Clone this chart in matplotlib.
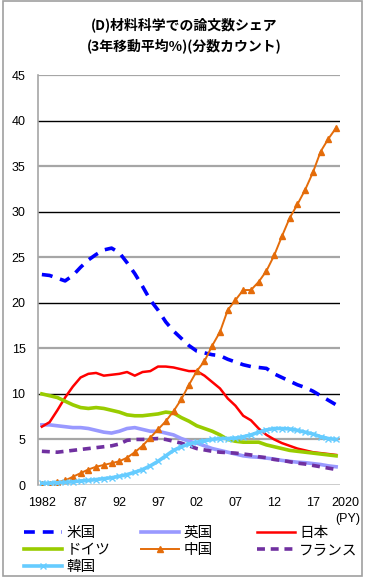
import numpy as np
import matplotlib.pyplot as plt
from matplotlib.patches import Rectangle
from matplotlib.transforms import ScaledTranslation

plt.rcParams['font.family'] = ['Liberation Sans', 'Noto Sans CJK JP']

years = np.arange(1982, 2021)

us = [23.1, 23.0, 22.7, 22.4, 23.0, 23.9, 24.7, 25.3, 25.8, 26.0,
      25.5, 24.4, 23.2, 21.8, 20.3, 19.2, 17.9, 16.9, 16.1, 15.3,
      14.7, 14.5, 14.3, 14.2, 13.8, 13.5, 13.2, 13.0, 12.9, 12.8,
      12.2, 11.8, 11.4, 11.0, 10.7, 10.3, 9.8, 9.3, 8.8]
uk = [6.6, 6.6, 6.5, 6.4, 6.3, 6.3, 6.2, 6.0, 5.8, 5.7,
      5.9, 6.2, 6.3, 6.1, 5.9, 5.9, 5.7, 5.5, 5.1, 4.8,
      4.6, 4.3, 4.0, 3.8, 3.6, 3.4, 3.2, 3.1, 3.05, 2.95,
      2.85, 2.7, 2.6, 2.5, 2.45, 2.35, 2.25, 2.1, 2.0]
japan = [6.4, 6.9, 8.2, 9.6, 10.8, 11.8, 12.2, 12.3, 12.0, 12.1,
         12.2, 12.4, 12.0, 12.4, 12.5, 13.0, 13.0, 12.9, 12.7, 12.5,
         12.5, 12.0, 11.3, 10.6, 9.5, 8.7, 7.6, 7.1, 6.2, 5.5,
         5.0, 4.6, 4.3, 4.0, 3.8, 3.6, 3.5, 3.4, 3.3]
germany = [10.0, 9.8, 9.6, 9.2, 8.8, 8.5, 8.4, 8.5, 8.4, 8.2,
           8.0, 7.7, 7.6, 7.6, 7.7, 7.8, 8.0, 7.9, 7.4, 7.0,
           6.5, 6.2, 5.9, 5.5, 5.0, 4.8, 4.7, 4.7, 4.7, 4.4,
           4.2, 4.0, 3.8, 3.7, 3.6, 3.5, 3.4, 3.3, 3.2]
china = [0.1, 0.15, 0.3, 0.5, 0.9, 1.3, 1.7, 2.0, 2.2, 2.4,
         2.6, 3.0, 3.6, 4.3, 5.2, 6.1, 7.0, 8.1, 9.4, 11.0,
         12.5, 13.6, 15.3, 16.8, 19.2, 20.3, 21.4, 21.4, 22.3, 23.5,
         25.2, 27.3, 29.3, 30.8, 32.4, 34.3, 36.6, 38.0, 39.2]
france = [3.7, 3.65, 3.6, 3.7, 3.8, 3.9, 4.0, 4.1, 4.2, 4.3,
          4.5, 4.9, 5.0, 5.0, 5.05, 5.1, 5.0, 4.8, 4.6, 4.3,
          4.0, 3.85, 3.7, 3.6, 3.55, 3.5, 3.4, 3.3, 3.1, 3.0,
          2.8, 2.7, 2.55, 2.4, 2.3, 2.15, 2.0, 1.85, 1.7]
korea = [0.2, 0.2, 0.25, 0.3, 0.35, 0.45, 0.5, 0.6, 0.7, 0.8,
         0.95, 1.15, 1.4, 1.7, 2.1, 2.6, 3.2, 3.8, 4.2, 4.5,
         4.7, 4.85, 5.0, 5.1, 5.1, 5.15, 5.3, 5.5, 5.8, 6.05,
         6.2, 6.2, 6.15, 6.0, 5.8, 5.6, 5.3, 5.1, 5.0]

xticks = [1982, 1987, 1992, 1997, 2002, 2007, 2012, 2017, 2020]
xticklabels = ['1982', '87', '92', '97', '02', '07', '12', '17', '2020']

fig = plt.figure(figsize=(3.67, 5.81), dpi=100)
ax = fig.add_axes([38/367, 1-485/581, (340-38)/367, (485-75)/581])

# grid: grey at odd multiples of 5, black at multiples of 10
for v in range(0, 50, 5):
    if v % 10 == 0:
        ax.axhline(v, color='black', lw=1.0, zorder=0)
    else:
        ax.axhline(v, color='#a6a6a6', lw=1.6, zorder=0)

l_us, = ax.plot(years, us, color='#0000ff', lw=2.6, dashes=(3, 2.2), label='米国')
l_uk, = ax.plot(years, uk, color='#9999ff', lw=2.6, label='英国')
l_jp, = ax.plot(years, japan, color='#ff0000', lw=1.8, label='日本')
l_de, = ax.plot(years, germany, color='#99cc00', lw=2.6, label='ドイツ')
l_fr, = ax.plot(years, france, color='#7030a0', lw=2.6, dashes=(2.2, 1.6), label='フランス')
l_cn, = ax.plot(years, china, color='#e46c0a', lw=1.4, marker='^', ms=4.5, label='中国')
l_kr, = ax.plot(years, korea, color='#66ccff', lw=2.6, marker='x', ms=4, mew=1.0, label='韓国')

ax.set_xlim(1981.5, 2020.5)
ax.set_ylim(0, 45)
ax.set_yticks(range(0, 50, 5))
ax.set_xticks(xticks)
ax.set_xticklabels(xticklabels)
ax.tick_params(axis='both', length=0, labelsize=9)
ax.tick_params(axis='x', pad=9)
ax.tick_params(axis='y', pad=9)
lbl = ax.get_xticklabels()[-1]
lbl.set_transform(lbl.get_transform() + ScaledTranslation(9/100, 0, fig.dpi_scale_trans))

for s in ['top', 'right', 'bottom']:
    ax.spines[s].set_visible(False)
ax.spines['left'].set_color('#a6a6a6')
ax.spines['left'].set_linewidth(1.2)

fig.text(0.948, 1-519/581, '(PY)', ha='center', va='center', fontsize=9)

fig.text(0.503, 1-25/581, '(D)材料科学での論文数シェア', ha='center', va='center',
         fontsize=10, fontweight='bold', family=['Noto Sans CJK JP'])
fig.text(0.503, 1-47/581, '(3年移動平均%)(分数カウント)', ha='center', va='center',
         fontsize=10, fontweight='bold', family=['Noto Sans CJK JP'])

cols = [[l_us, l_de, l_kr], [l_uk, l_cn], [l_jp, l_fr]]
xs = [24/367, 141/367, 257/367]
for hs, x0 in zip(cols, xs):
    fig.legend(handles=hs, loc='upper left', bbox_to_anchor=(x0, 1-526/581),
               frameon=False, handlelength=2.6, handletextpad=0.3,
               labelspacing=0.2, borderpad=0, borderaxespad=0,
               prop={'family': ['Noto Sans CJK JP'], 'size': 10.5})

fig.patches.append(Rectangle((3/367, 1-576/581), 359/367, 575/581, transform=fig.transFigure,
                             fill=False, edgecolor='#a0a0a0', lw=1.2))

fig.savefig('out.png', dpi=100)
